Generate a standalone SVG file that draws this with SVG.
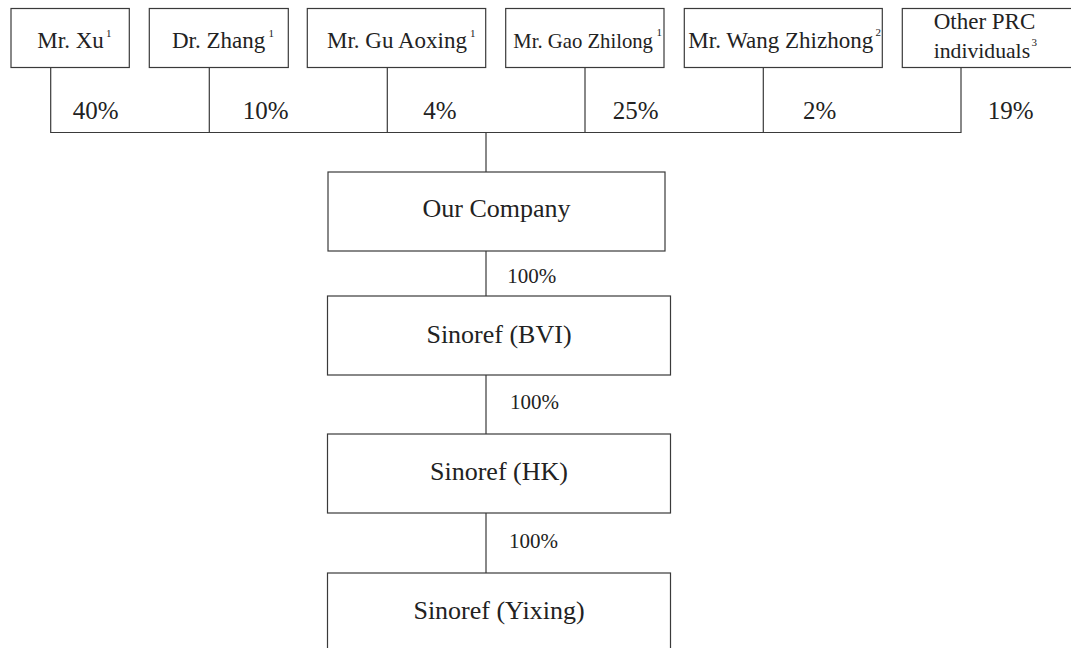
<svg xmlns="http://www.w3.org/2000/svg" width="1071" height="648" viewBox="0 0 1071 648">
<style>
.box{fill:#fff;stroke:#3a3a3a;stroke-width:1.2}
.ln{fill:none;stroke:#3a3a3a;stroke-width:1.2}
text{font-family:"Liberation Serif","Times New Roman",serif;fill:#222}
.lbl{font-size:23px}
.sup{font-size:11px}
.pct{font-size:25px}
.big{font-size:26px;text-anchor:middle}
.sm{font-size:21px}
</style>
<rect width="1071" height="648" fill="#fff"/>
<g id="connectors">
<path class="ln" d="M50.7,67.5V132.5H961V67.5M209.3,67.5V132.5M387.3,67.5V132.5M585,67.5V132.5M763.3,67.5V132.5"/>
<path class="ln" d="M486,132.5V172M486,251V296M486,375V434M486,513V573"/>
<text class="pct" x="72.7" y="119.3">40%</text>
<text class="pct" x="242.7" y="119.3">10%</text>
<text class="pct" x="423.3" y="119.3">4%</text>
<text class="pct" x="612.7" y="119.3">25%</text>
<text class="pct" x="803" y="119.3">2%</text>
<text class="pct" x="987.7" y="119.3">19%</text>
<text class="sm" x="507.3" y="283.3">100%</text>
<text class="sm" x="510" y="409.3">100%</text>
<text class="sm" x="509" y="548.3">100%</text>
</g>
<g id="xu">
<rect class="box" x="11" y="8.5" width="118.3" height="59"/>
<text class="lbl" x="37.3" y="48.3">Mr. Xu</text>
<text class="sup" x="106" y="37">1</text>
</g>
<g id="zhang">
<rect class="box" x="149.3" y="8.5" width="139" height="59"/>
<text class="lbl" x="172" y="48.3">Dr. Zhang</text>
<text class="sup" x="268.5" y="37">1</text>
</g>
<g id="gu">
<rect class="box" x="307.3" y="8.5" width="178.4" height="59"/>
<text class="lbl" x="327" y="48.3">Mr. Gu Aoxing</text>
<text class="sup" x="470" y="37">1</text>
</g>
<g id="gao">
<rect class="box" x="505.7" y="8.5" width="158.3" height="59"/>
<text x="513.3" y="48.3" style="font-size:20.7px">Mr. Gao Zhilong</text>
<text class="sup" x="656.5" y="36">1</text>
</g>
<g id="wang">
<rect class="box" x="684.3" y="8.5" width="198" height="59"/>
<text class="lbl" x="688.3" y="48.3">Mr. Wang Zhizhong</text>
<text class="sup" x="875.5" y="36">2</text>
</g>
<g id="other">
<rect class="box" x="902.3" y="8.5" width="175" height="59"/>
<text class="lbl" x="933.7" y="29.3">Other PRC</text>
<text x="933.7" y="58.3" style="font-size:21.7px">individuals</text>
<text class="sup" x="1031.5" y="46">3</text>
</g>
<g id="our-company">
<rect class="box" x="328" y="172" width="337" height="79"/>
<text class="big" x="496.5" y="217">Our Company</text>
</g>
<g id="sinoref-bvi">
<rect class="box" x="327.5" y="296" width="343" height="79"/>
<text class="big" x="499" y="343">Sinoref (BVI)</text>
</g>
<g id="sinoref-hk">
<rect class="box" x="327.5" y="434" width="343" height="79"/>
<text class="big" x="499" y="480">Sinoref (HK)</text>
</g>
<g id="sinoref-yixing">
<rect class="box" x="327.5" y="573" width="343" height="80"/>
<text class="big" x="499" y="619">Sinoref (Yixing)</text>
</g>
</svg>
